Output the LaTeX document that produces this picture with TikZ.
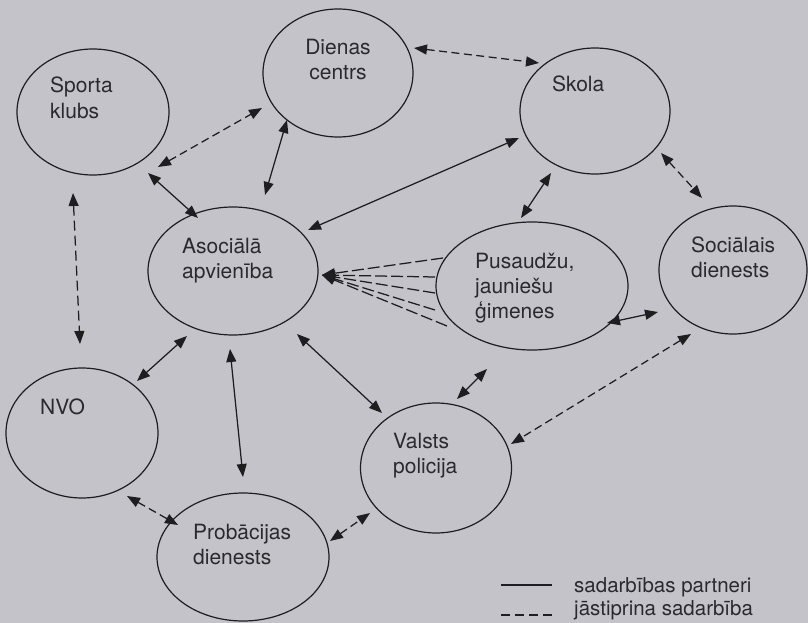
\documentclass[tikz,border=0pt]{standalone}
\usepackage{fontspec}
\setmainfont{TeX Gyre Heros}
\usetikzlibrary{arrows.meta,calc,shapes.geometric}
\definecolor{paper}{HTML}{C4C3C9}
\definecolor{ink}{HTML}{1E1E21}
\definecolor{print}{HTML}{2A2A2E}

\begin{document}
\begin{tikzpicture}[x=1pt,y=-1pt,
  >={Triangle[length=13pt,width=10pt]},
  bubble/.style={ellipse,draw=ink,line width=1.2pt,inner sep=0pt,outer sep=0pt},
  % multi-line labels are placed by the baseline of their last line
  lbl/.style={font=\fontsize{21}{25}\selectfont,text=print,inner sep=0pt,align=left,anchor=base west},
  legendtext/.style={font=\fontsize{20.5}{25}\selectfont,text=print,inner sep=0pt,anchor=base west},
  link/.style={draw=ink,line width=1.25pt,<->},
  weak/.style={link,dash pattern=on 8pt off 4.5pt}]

% page
\fill[paper] (0,0) rectangle (808,623);
\useasboundingbox (0,0) rectangle (808,623);

% partners
\node[bubble,minimum width=152pt,minimum height=126pt] (S)  at (93,112)  {};
\node[bubble,minimum width=150pt,minimum height=128pt] (D)  at (338,73)  {};
\node[bubble,minimum width=150pt,minimum height=126pt] (K)  at (595,111) {};
\node[bubble,minimum width=170pt,minimum height=128pt] (A)  at (233,271) {};
\node[bubble,minimum width=192pt,minimum height=128pt] (P)  at (532,286) {};
\node[bubble,minimum width=148pt,minimum height=128pt] (SD) at (733,270) {};
\node[bubble,minimum width=152pt,minimum height=130pt] (N)  at (82,433)  {};
\node[bubble,minimum width=151pt,minimum height=130pt] (V)  at (436,468) {};
\node[bubble,minimum width=172pt,minimum height=128pt] (PR) at (243,557) {};

% their names
\node[lbl] (St)  at ($(S)+(-43,6)$)    {Sporta\\klubs};
\node[lbl,align=center,anchor=base] (Dt) at ($(D)+(0,7)$) {Dienas\\centrs};
\node[lbl] (Kt)  at ($(K)+(-43,-19)$)  {Skola};
\node[lbl] (At)  at ($(A)+(-51,7)$)    {Asociālā\\apvienība};
\node[lbl] (Pt)  at ($(P)+(-57,32)$)   {Pusaudžu,\\jauniešu\\ģimenes};
\node[lbl] (SDt) at ($(SD)+(-42,7)$)   {Sociālais\\dienests};
\node[lbl] (Nt)  at ($(N)+(-42,-19)$)  {NVO};
\node[lbl] (Vt)  at ($(V)+(-43,5)$)    {Valsts\\policija};
\node[lbl] (PRt) at ($(PR)+(-50,7)$)   {Probācijas\\dienests};

% established partnerships
\draw[link] ($(S)+(55,61)$)   -- ($(A)+(-35,-53)$);
\draw[link] ($(D)+(-51,47)$)  -- ($(A)+(32,-76)$);
\draw[link] ($(K)+(-76,27)$)  -- ($(A)+(75,-41)$);
\draw[link] ($(K)+(-44,62)$)  -- ($(P)+(-11,-68)$);
\draw[link] ($(P)+(75,37)$)   -- ($(SD)+(-75,42)$);
\draw[link] ($(P)+(-45,83)$)  -- ($(V)+(21,-69)$);
\draw[link] ($(A)+(-46,65)$)  -- ($(N)+(55,-52)$);
\draw[link] ($(A)+(-3,78)$)   -- ($(PR)+(0,-80)$);
\draw[link] ($(A)+(64,63)$)   -- ($(V)+(-54,-55)$);

% cooperation to strengthen
\draw[weak] ($(S)+(65,55)$)   -- ($(D)+(-76,35)$);
\draw[weak] ($(D)+(76,-25)$)  -- ($(K)+(-56,-48)$);
\draw[weak] ($(K)+(66,42)$)   -- ($(SD)+(-31,-72)$);
\draw[weak] ($(SD)+(-42,64)$) -- ($(V)+(75,-24)$);
\draw[weak,dash pattern=on 10pt off 5pt] ($(S)+(-20,81)$) -- ($(N)+(-2,-89)$);
\draw[weak] ($(N)+(45,63)$)   -- ($(PR)+(-65,-32)$);
\draw[weak] ($(PR)+(87,-16)$) -- ($(V)+(-66,45)$);

% families towards the association
\foreach \dx/\dy in {-89/-28,-97/-9,-97/7,-97/24,-85/40}
  \draw[weak,->,dash pattern=on 12pt off 4pt] ($(P)+(\dx,\dy)$) -- ($(A)+(89,4)$);

% legend
\node[legendtext] (lg1) at (574,592) {sadarbības partneri};
\node[legendtext] (lg2) at (574,615) {jāstiprina sadarbība};
\draw[ink,line width=1.2pt] ($(lg1.base west)+(-73,-7)$) -- ++(51,0);
\draw[ink,line width=1.2pt,dash pattern=on 9pt off 5pt] ($(lg2.base west)+(-73,0)$) -- ++(51,0);
\end{tikzpicture}
\end{document}
